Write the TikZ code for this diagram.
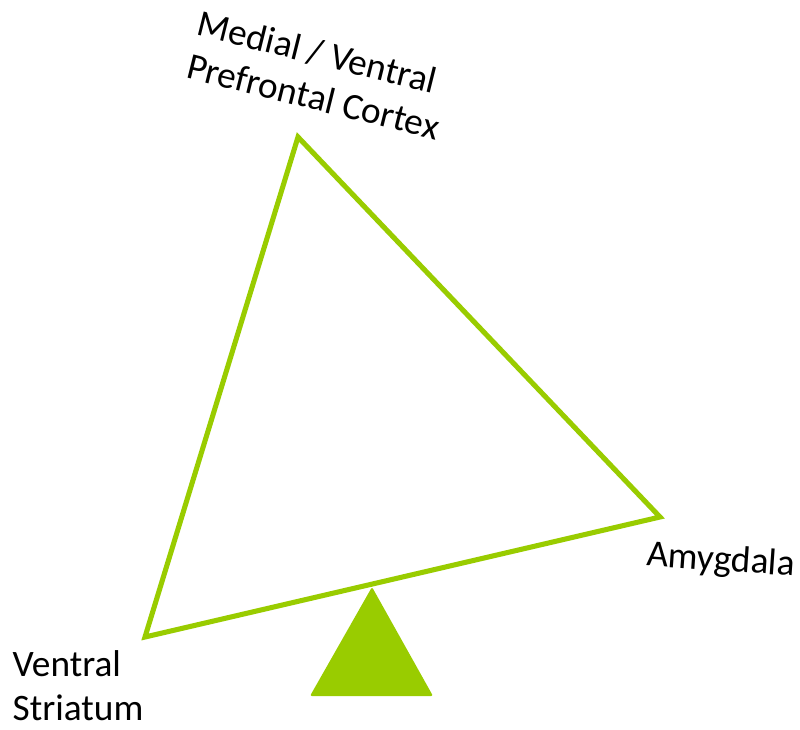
\documentclass[tikz,border=0pt]{standalone}
\usepackage{fontspec}
\setmainfont{Carlito}
\usepackage{tikz}
\usetikzlibrary{positioning}
\definecolor{balgreen}{RGB}{153,204,0}

\begin{document}
\begin{tikzpicture}[x=0.75pt, y=-0.75pt]

\useasboundingbox (0,0) rectangle (800,729);

\tikzset{
    lbl/.style={font=\fontsize{28}{33}\selectfont, align=left, inner sep=0pt}
}

% Vèrtexs

\coordinate (pfc) at (298,137);
\coordinate (amy) at (660,517);
\coordinate (vs) at (145,637);

% Triangle

\draw[
    line width=3.8pt,
    balgreen,
    line join=miter
] (pfc) -- (amy) -- (vs) -- cycle;


% Suport

\coordinate (apex) at (372,587);
\coordinate (baseL) at (310,696);
\coordinate (baseR) at (433,696);

\fill[
    balgreen,
    rounded corners=1.5pt
] (apex) -- (baseR) -- (baseL) -- cycle;


% Etiquetes

\node[lbl, rotate=-14] (pfclabel) at (319,75)
    {Medial / Ventral\\Prefrontal Cortex};

\node[lbl, rotate=-4] (amylabel) at (721,561) {Amygdala};

\node[lbl] (vslabel) at (78,686) {Ventral\\Striatum};

\end{tikzpicture}
\end{document}
